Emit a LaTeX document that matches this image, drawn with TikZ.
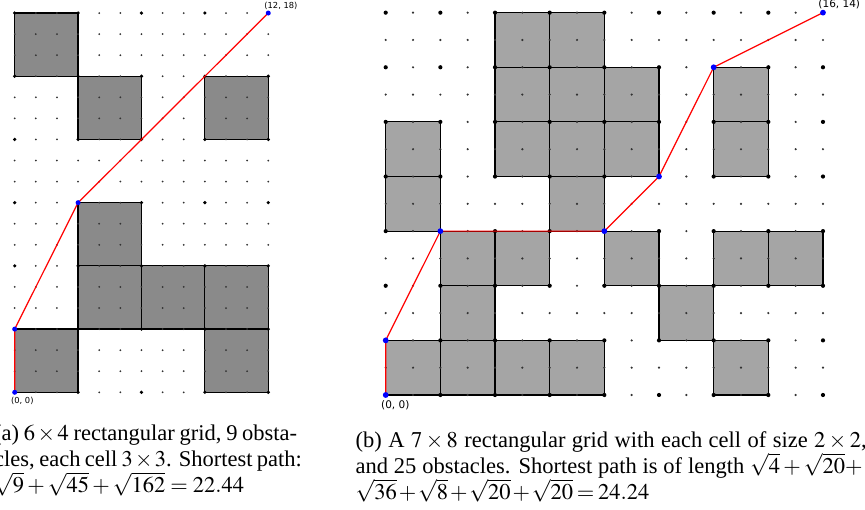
\documentclass[tikz,border=0pt]{standalone}
\usepackage{mathptmx}
\usepackage{fontspec}
\setmainfont{Liberation Serif}
\newfontfamily\labelfont{DejaVu Sans}

\definecolor{obsdark}{RGB}{138,138,138}
\definecolor{obslight}{RGB}{165,165,165}
\definecolor{dotgray}{RGB}{50,50,50}
\definecolor{pathred}{RGB}{255,0,0}
\definecolor{vertblue}{RGB}{0,0,255}

\tikzset{
  obstacle/.style={draw=black, line width=1.2pt},
  route/.style={draw=pathred, line width=1.2pt, line join=round},
  captionline/.style={anchor=base west, inner sep=0pt, font=\fontsize{22.5}{27}\selectfont},
  coordlabel/.style={inner sep=0pt},
}

\begin{document}
\begin{tikzpicture}[x=1pt, y=-1pt]
\useasboundingbox (0,0) rectangle (865,510);

% ---------- left panel: 12 x 18 lattice, 3 x 3 cells ----------
\begin{scope}[shift={(14.7,392.3)}, x=21.13pt, y=21.07pt]
  \foreach \cx/\cy in {0/15,3/12,9/12,3/6,3/3,6/3,9/3,0/0,9/0}
    \filldraw[fill=obsdark, obstacle] (\cx,\cy) rectangle ++(3,3);
  \foreach \i in {0,...,12}
    \foreach \j in {0,...,18}
      \fill[dotgray] (\i,\j) circle[radius=1.0pt];
  \foreach \i in {0,3,...,12}
    \foreach \j in {0,3,...,18}
      \fill[black] (\i,\j) circle[radius=1.8pt];
  \coordinate (a0) at (0,0);
  \coordinate (a1) at (0,3);
  \coordinate (a2) at (3,9);
  \coordinate (a3) at (12,18);
  \draw[route] (a0) -- (a1) -- (a2) -- (a3);
  \foreach \p in {a0,a1,a2,a3}
    \fill[vertblue] (\p) circle[radius=2.5pt];
  \node[coordlabel, anchor=north west, font=\labelfont\fontsize{8.3}{10}\selectfont,
        xshift=-3.7pt, yshift=-4.5pt] (la0) at (a0) {(0, 0)};
  \node[coordlabel, anchor=south west, font=\labelfont\fontsize{8.3}{10}\selectfont,
        xshift=-4pt, yshift=3.3pt] (la3) at (a3) {(12, 18)};
\end{scope}

% ---------- right panel: 16 x 14 lattice, 2 x 2 cells ----------
\begin{scope}[shift={(385.7,395)}, x=27.33pt, y=27.31pt]
  \foreach \cx/\cy in {4/12,6/12,
                       4/10,6/10,8/10,12/10,
                       0/8,4/8,6/8,8/8,12/8,
                       0/6,6/6,
                       2/4,4/4,8/4,12/4,14/4,
                       2/2,10/2,
                       0/0,2/0,4/0,6/0,12/0}
    \filldraw[fill=obslight, obstacle] (\cx,\cy) rectangle ++(2,2);
  \foreach \i in {0,...,16}
    \foreach \j in {0,...,14}
      \fill[dotgray] (\i,\j) circle[radius=1.2pt];
  \foreach \i in {0,2,...,16}
    \foreach \j in {0,2,...,14}
      \fill[black] (\i,\j) circle[radius=2.1pt];
  \coordinate (b0) at (0,0);
  \coordinate (b1) at (0,2);
  \coordinate (b2) at (2,6);
  \coordinate (b3) at (8,6);
  \coordinate (b4) at (10,8);
  \coordinate (b5) at (12,12);
  \coordinate (b6) at (16,14);
  \draw[route] (b0) -- (b1) -- (b2) -- (b3) -- (b4) -- (b5) -- (b6);
  \foreach \p in {b0,b1,b2,b3,b4,b5,b6}
    \fill[vertblue] (\p) circle[radius=2.9pt];
  \node[coordlabel, anchor=north west, font=\labelfont\fontsize{10.5}{12}\selectfont,
        xshift=-4.7pt, yshift=-5.5pt] (lb0) at (b0) {(0, 0)};
  \node[coordlabel, anchor=south west, font=\labelfont\fontsize{10.5}{12}\selectfont,
        xshift=-4.7pt, yshift=3.7pt] (lb6) at (b6) {(16, 14)};
\end{scope}

% ---------- captions ----------
\node[captionline] (ca1) at (-6,441) {\makebox[303pt][s]{(a) $6\times 4$ rectangular grid, 9 obsta-}};
\node[captionline] (ca2) at (-6,467) {\makebox[307.7pt][s]{cles, each cell $3\times 3$. Shortest path:}};
\node[captionline] (ca3) at (-6,493) {$\sqrt{9}+\sqrt{45}+\sqrt{162}=22.44$};

\node[captionline] (cb1) at (355.5,447) {\makebox[511pt][s]{(b) A $7\times 8$ rectangular grid with each cell of size $2\times 2$,}};
\node[captionline] (cb2) at (355.5,473.5) {\makebox[507pt][s]{and 25 obstacles. Shortest path is of length $\sqrt{4}+\sqrt{20}+$}};
\node[captionline] (cb3) at (355.5,499.5) {\makebox[286.5pt][s]{$\sqrt{36}+\sqrt{8}+\sqrt{20}+\sqrt{20}=24.24$}};
\end{tikzpicture}
\end{document}
